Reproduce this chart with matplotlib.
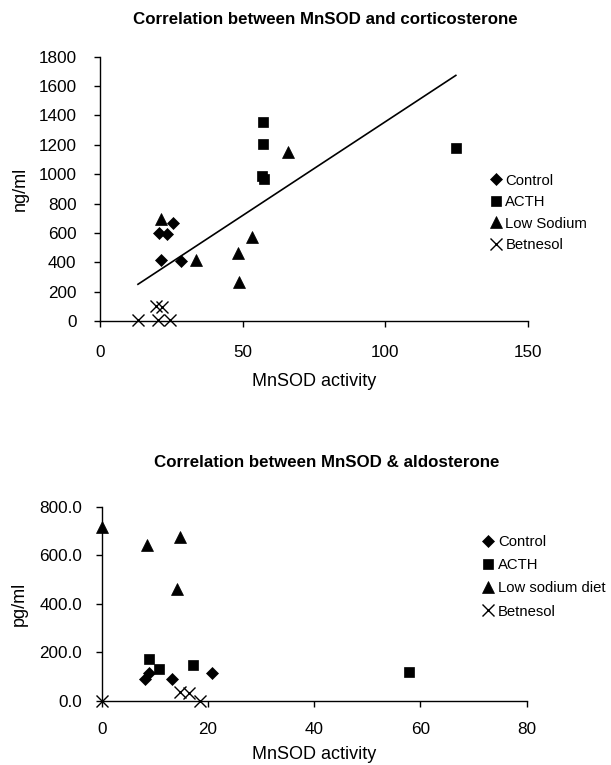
import matplotlib.pyplot as plt
import numpy as np

plt.rcParams['font.family'] = ['Liberation Sans', 'DejaVu Sans']

# Top chart: MnSOD activity vs corticosterone (ng/ml)
cort_control_x = [20.7, 23.4, 25.7, 21.3, 28.3]
cort_control_y = [601, 592, 665, 415, 406]
cort_acth_x = [57.2, 57.2, 56.6, 57.3, 124.7]
cort_acth_y = [1357, 1205, 987, 965, 1176]
cort_lowna_x = [21.2, 33.5, 48.2, 48.7, 53.1, 65.9]
cort_lowna_y = [692, 415, 465, 268, 570, 1151]
cort_betn_x = [13.3, 19.6, 21.7, 20.3, 24.5]
cort_betn_y = [7, 102, 93, 7, 7]
# linear trendline
trend_slope = 12.77
trend_intercept = 80.2

# Bottom chart: MnSOD activity vs aldosterone (pg/ml)
aldo_control_x = [8.2, 9.0, 13.3, 20.8]
aldo_control_y = [88, 113, 88, 113]
aldo_acth_x = [9.0, 10.7, 17.1, 57.9]
aldo_acth_y = [171, 132, 146, 120]
aldo_lowna_x = [0.0, 8.5, 14.7, 14.2]
aldo_lowna_y = [718, 642, 674, 461]
aldo_betn_x = [0.0, 14.7, 16.4, 18.5]
aldo_betn_y = [0, 37, 33, 0]

top_labels = ['Control', 'ACTH', 'Low Sodium', 'Betnesol']
bottom_labels = ['Control', 'ACTH', 'Low sodium diet', 'Betnesol']
markers = ['D', 's', '^', 'x']
msizes = [6.5, 7, 8.5, 8]

fig = plt.figure(figsize=(6.11, 7.65), dpi=100)


def style_axes(ax, xpad, ypad):
    for s in ['top', 'right']:
        ax.spines[s].set_visible(False)
    for s in ['left', 'bottom']:
        ax.spines[s].set_linewidth(1.0)
    ax.tick_params(direction='out', length=4, width=1, labelsize=12.3)
    ax.tick_params(axis='x', pad=xpad)
    ax.tick_params(axis='y', pad=ypad)


def draw_series(ax, series, labels):
    handles = []
    for (x, y), lab, m, ms in zip(series, labels, markers, msizes):
        h, = ax.plot(x, y, linestyle='none', marker=m, color='black',
                     markersize=ms, markeredgewidth=1.0 if m == 'x' else 0.5,
                     clip_on=False, label=lab, zorder=3)
        handles.append(h)
    return handles


# ---- top chart
ax1 = fig.add_axes([0.1637, 0.5804, 0.7005, 0.3455])
style_axes(ax1, 13, 13)
top_series = [(cort_control_x, cort_control_y), (cort_acth_x, cort_acth_y),
              (cort_lowna_x, cort_lowna_y), (cort_betn_x, cort_betn_y)]
h1 = draw_series(ax1, top_series, top_labels)

all_x = np.concatenate([cort_control_x, cort_acth_x, cort_lowna_x, cort_betn_x])
tx = np.array([all_x.min(), all_x.max()])
ax1.plot(tx, trend_intercept + trend_slope * tx, color='black', linewidth=1.2, zorder=2)

ax1.set_xlim(0, 150)
ax1.set_ylim(0, 1800)
ax1.set_xticks([0, 50, 100, 150])
ax1.set_yticks(range(0, 1801, 200))
ax1.set_xlabel('MnSOD activity', fontsize=13, labelpad=10)
ax1.set_ylabel('ng/ml', fontsize=13, labelpad=6.5)
ax1.legend(handles=h1, loc='upper left', bbox_to_anchor=(0.9, 0.58),
           frameon=False, fontsize=10.7, handlelength=0.6, handletextpad=0.35,
           labelspacing=0.5, borderaxespad=0)
fig.text(0.532, 0.975, 'Correlation between MnSOD and corticosterone',
         ha='center', va='center', fontsize=12.2, fontweight='bold')

# ---- bottom chart
ax2 = fig.add_axes([0.1664, 0.0841, 0.6956, 0.2536])
style_axes(ax2, 11.6, 10)
bottom_series = [(aldo_control_x, aldo_control_y), (aldo_acth_x, aldo_acth_y),
                 (aldo_lowna_x, aldo_lowna_y), (aldo_betn_x, aldo_betn_y)]
h2 = draw_series(ax2, bottom_series, bottom_labels)
ax2.set_xlim(0, 80)
ax2.set_ylim(0, 800)
ax2.set_xticks([0, 20, 40, 60, 80])
ax2.set_yticks(range(0, 801, 200))
ax2.set_yticklabels(['%.1f' % v for v in range(0, 801, 200)])
ax2.set_xlabel('MnSOD activity', fontsize=13, labelpad=6)
ax2.set_ylabel('pg/ml', fontsize=13, labelpad=8)
ax2.legend(handles=h2, loc='upper left', bbox_to_anchor=(0.885, 0.885),
           frameon=False, fontsize=10.7, handlelength=0.6, handletextpad=0.35,
           labelspacing=0.62, borderaxespad=0)
fig.text(0.535, 0.396, 'Correlation between MnSOD & aldosterone',
         ha='center', va='center', fontsize=12.2, fontweight='bold')

fig.savefig('out.png', dpi=100)
